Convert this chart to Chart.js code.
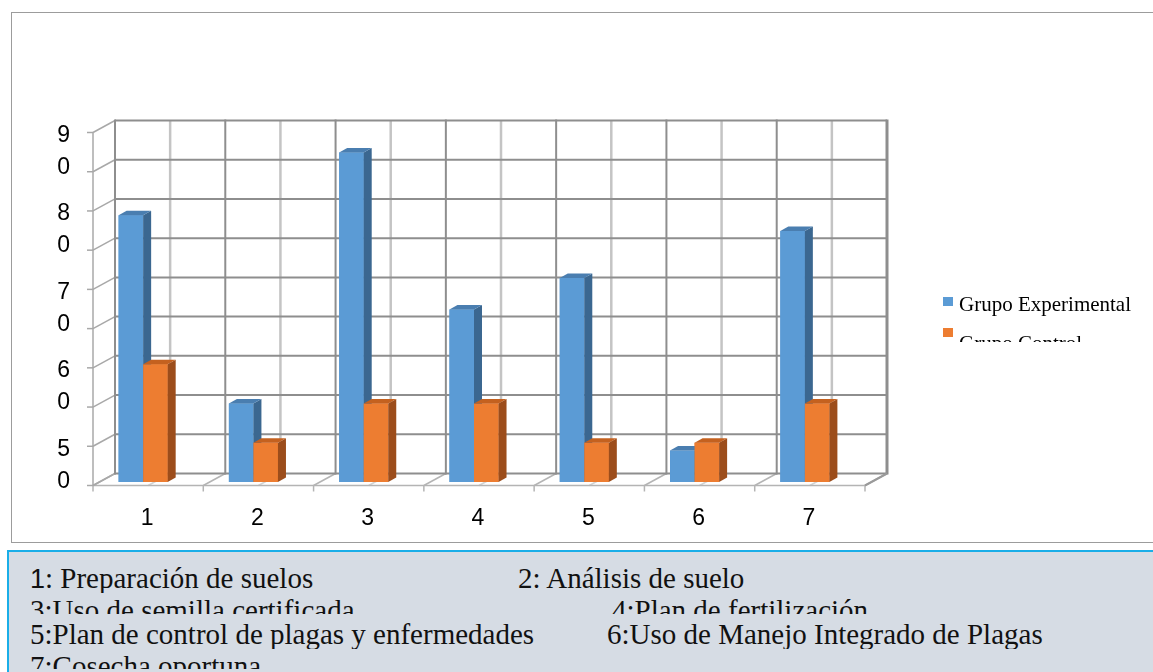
<!DOCTYPE html>
<html>
<head>
<meta charset="utf-8">
<script src="https://cdn.jsdelivr.net/npm/chart.js@4.4.1/dist/chart.umd.min.js"></script>
<style>
  html, body { margin: 0; padding: 0; background: #fff; width: 1153px; height: 672px; overflow: hidden; }
  #frame { position: absolute; left: 11px; top: 12px; width: 1170px; height: 529px; border: 1px solid #9c9c9c; }
  #chart { position: absolute; left: 0; top: 0; }
  #notes {
    position: absolute; left: 7px; top: 550px; width: 1170px; height: 140px;
    background: #d6dce4; border-top: 2px solid #1aaee8; border-left: 2px solid #1aaee8;
    font-family: "Liberation Serif", "Times New Roman", serif; font-size: 29px; color: #111;
  }
  .ln { position: absolute; white-space: nowrap; overflow: hidden; line-height: 29px; height: 29px; }
  .sans { font-family: "Liberation Sans", Arial, sans-serif; font-size: 27px; }
</style>
</head>
<body>
<div id="frame"></div>
<canvas id="chart" width="1153" height="672"></canvas>
<div id="notes">
  <div class="ln" style="left:21px; top:12px;"><span class="sans">1</span>: Preparación de suelos</div>
  <div class="ln" style="left:509px; top:12px;">2: Análisis de suelo</div>
  <div class="ln" style="left:21px; top:44px; height:18px;">3:Uso de semilla certificada</div>
  <div class="ln" style="left:603px; top:44px; height:18px;">4:Plan de fertilización</div>
  <div class="ln" style="left:21px; top:68px;">5:Plan de control de plagas y enfermedades</div>
  <div class="ln" style="left:598px; top:68px;">6:Uso de Manejo Integrado de Plagas</div>
  <div class="ln" style="left:21px; top:100px; height:17px;">7:Cosecha oportuna</div>
</div>
<script>
// Categories and series values
const CATEGORIES = ['1', '2', '3', '4', '5', '6', '7'];
const SERIES_NAMES = ['Grupo Experimental', 'Grupo Control'];
const EXPERIMENTAL = [68, 20, 84, 44, 52, 8, 64];
const CONTROL = [30, 10, 20, 20, 10, 10, 20];

// Value axis: range, grid step and the two-line tick labels
const Y_MAX = 90;
const Y_STEP = 10;
const Y_TICK_VALUES = [5, 25, 45, 65, 85];
const Y_TICK_LABELS = [['5', '0'], ['6', '0'], ['7', '0'], ['8', '0'], ['9', '0']];

// Offsets of the front edge, back wall and bar depth relative to the bar plane
const FRONT = { dx: 5, dy: 3.5 };
const BACK = { dx: 27, dy: -8.5 };
const BAR_DEPTH = { dx: 8, dy: -4.5 };

function line(ctx, x1, y1, x2, y2) {
  ctx.beginPath();
  ctx.moveTo(x1, y1);
  ctx.lineTo(x2, y2);
  ctx.stroke();
}

function drawFaces(ctx, ds, el) {
  const p = el.getProps(['x', 'y', 'base', 'width'], true);
  const l = p.x - p.width / 2, r = p.x + p.width / 2;
  const top = Math.min(p.y, p.base), base = Math.max(p.y, p.base);
  // side face
  ctx.fillStyle = ds.sideColor;
  ctx.beginPath();
  ctx.moveTo(r, top);
  ctx.lineTo(r + BAR_DEPTH.dx, top + BAR_DEPTH.dy);
  ctx.lineTo(r + BAR_DEPTH.dx, base + BAR_DEPTH.dy);
  ctx.lineTo(r, base);
  ctx.closePath();
  ctx.fill();
  // top face
  ctx.fillStyle = ds.topColor;
  ctx.beginPath();
  ctx.moveTo(l, top);
  ctx.lineTo(l + BAR_DEPTH.dx, top + BAR_DEPTH.dy);
  ctx.lineTo(r + BAR_DEPTH.dx, top + BAR_DEPTH.dy);
  ctx.lineTo(r, top);
  ctx.closePath();
  ctx.fill();
}

const box3d = {
  id: 'box3d',
  beforeDatasetsDraw(chart) {
    const ctx = chart.ctx;
    const xs = chart.scales.x, ys = chart.scales.y;
    const n = CATEGORIES.length;
    const edge = k => xs.getPixelForValue(k - 0.5);
    const mid = k => xs.getPixelForValue(k);
    const yv = v => ys.getPixelForValue(v);
    const levels = [];
    for (let v = 0; v <= Y_MAX; v += Y_STEP) levels.push(v);
    const y0 = yv(0), yTop = yv(Y_MAX);

    ctx.save();
    ctx.lineCap = 'butt';

    // floor
    ctx.strokeStyle = '#d2d2d2';
    ctx.lineWidth = 1.5;
    for (let k = 0; k < n; k++) {
      line(ctx, mid(k) + FRONT.dx, y0 + FRONT.dy, mid(k) + BACK.dx, y0 + BACK.dy);
    }
    ctx.strokeStyle = '#b4b4b4';
    for (let k = 0; k <= n; k++) {
      line(ctx, edge(k) + FRONT.dx, y0 + FRONT.dy, edge(k) + BACK.dx, y0 + BACK.dy);
      line(ctx, edge(k) + FRONT.dx, y0 + FRONT.dy, edge(k) + FRONT.dx, y0 + FRONT.dy + 6);
    }
    line(ctx, edge(0) + FRONT.dx, y0 + FRONT.dy, edge(n) + FRONT.dx, y0 + FRONT.dy);

    // left wall
    ctx.strokeStyle = '#a8a8a8';
    ctx.lineWidth = 1.5;
    const lx = edge(0);
    line(ctx, lx + FRONT.dx, yTop + FRONT.dy, lx + FRONT.dx, y0 + FRONT.dy);
    levels.forEach(v => {
      line(ctx, lx + FRONT.dx, yv(v) + FRONT.dy, lx + BACK.dx, yv(v) + BACK.dy);
      line(ctx, lx + FRONT.dx - 6, yv(v) + FRONT.dy, lx + FRONT.dx, yv(v) + FRONT.dy);
    });

    // back wall: light lines at category centres, dark at boundaries
    ctx.strokeStyle = '#c4c4c4';
    ctx.lineWidth = 2.5;
    for (let k = 0; k < n; k++) {
      line(ctx, mid(k) + BACK.dx, yTop + BACK.dy, mid(k) + BACK.dx, y0 + BACK.dy);
    }
    ctx.strokeStyle = '#8e8e8e';
    ctx.lineWidth = 2;
    levels.forEach(v => {
      line(ctx, edge(0) + BACK.dx, yv(v) + BACK.dy, edge(n) + BACK.dx, yv(v) + BACK.dy);
    });
    for (let k = 0; k <= n; k++) {
      ctx.lineWidth = k === n ? 3 : 2;
      line(ctx, edge(k) + BACK.dx, yTop + BACK.dy - 1, edge(k) + BACK.dx, y0 + BACK.dy + 1);
    }
    // right floor edge
    ctx.strokeStyle = '#9a9a9a';
    ctx.lineWidth = 2;
    line(ctx, edge(n) + FRONT.dx, y0 + FRONT.dy, edge(n) + BACK.dx, y0 + BACK.dy);
    ctx.restore();
  },
  afterDatasetsDraw(chart) {
    // redraw the bars left to right so each front face covers the
    // side face of the bar before it
    const ctx = chart.ctx;
    const metas = chart.data.datasets.map((ds, i) => chart.getDatasetMeta(i));
    ctx.save();
    for (let k = 0; k < CATEGORIES.length; k++) {
      metas.forEach((meta, i) => {
        const el = meta.data[k];
        if (!el) return;
        el.draw(ctx, chart.chartArea);
        drawFaces(ctx, chart.data.datasets[i], el);
      });
    }
    ctx.restore();
  },
  afterDraw(chart) {
    // legend, clipped by its box
    const ctx = chart.ctx;
    ctx.save();
    ctx.beginPath();
    ctx.rect(900, 270, 253, 72);
    ctx.clip();
    ctx.font = '21px "Liberation Serif", "Times New Roman", serif';
    ctx.textBaseline = 'alphabetic';
    ctx.textAlign = 'left';
    chart.data.datasets.forEach((ds, i) => {
      ctx.fillStyle = ds.backgroundColor;
      ctx.fillRect(943, 297 + 31 * i, 10, 9);
      ctx.fillStyle = '#000';
      ctx.fillText(ds.label, 959, 311 + 39 * i);
    });
    ctx.restore();
  }
};

new Chart(document.getElementById('chart'), {
  type: 'bar',
  data: {
    labels: CATEGORIES,
    datasets: [
      { label: SERIES_NAMES[0], data: EXPERIMENTAL, backgroundColor: '#5b9bd5',
        sideColor: '#3b6790', topColor: '#4a7eb0' },
      { label: SERIES_NAMES[1], data: CONTROL, backgroundColor: '#ed7d31',
        sideColor: '#9c4d1b', topColor: '#c4611f' }
    ]
  },
  options: {
    responsive: false,
    animation: false,
    devicePixelRatio: 1,
    layout: { padding: { left: 0, right: 293, top: 129, bottom: 140 } },
    plugins: { legend: { display: false }, tooltip: { enabled: false } },
    datasets: { bar: { categoryPercentage: 0.445, barPercentage: 1, borderWidth: 0 } },
    scales: {
      x: {
        grid: { display: false, drawTicks: false },
        border: { display: false },
        ticks: { color: '#000', font: { family: '"Liberation Sans", Arial, sans-serif', size: 23, lineHeight: 1.2 },
                 padding: 23, labelOffset: 4, maxRotation: 0 },
        afterFit(s) { s.height = 50; }
      },
      y: {
        min: 0, max: Y_MAX,
        grid: { display: false, drawTicks: false },
        border: { display: false },
        afterBuildTicks(s) { s.ticks = Y_TICK_VALUES.map(v => ({ value: v })); },
        ticks: { color: '#000', autoSkip: false,
                 font: { family: '"Liberation Sans", Arial, sans-serif', size: 23, lineHeight: 1.4 },
                 padding: 18, labelOffset: 3,
                 callback: (v, i) => Y_TICK_LABELS[i] },
        afterFit(s) { s.width = 88; }
      }
    }
  },
  plugins: [box3d]
});
</script>
</body>
</html>
